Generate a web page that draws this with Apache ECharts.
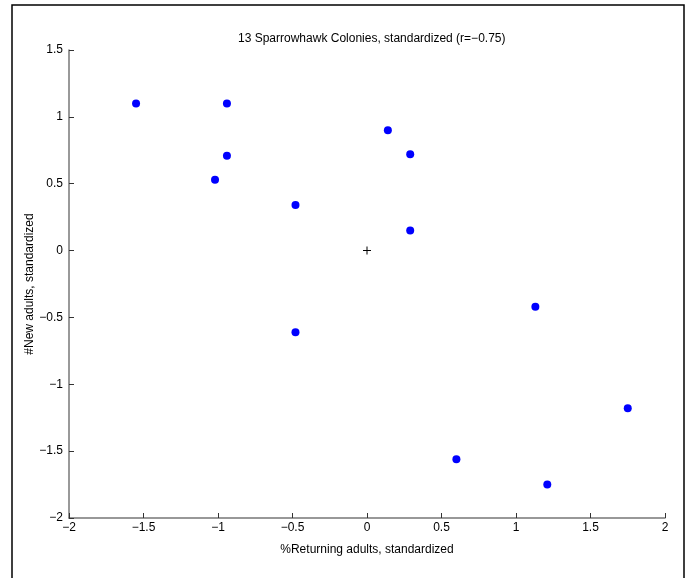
<!DOCTYPE html>
<html>
<head>
<meta charset="utf-8">
<style>
  html, body { margin: 0; padding: 0; background: #fff; }
  #chart { width: 688px; height: 578px; }
</style>
<script src="https://cdn.jsdelivr.net/npm/echarts@6/dist/echarts.min.js"></script>
</head>
<body>
<div id="chart"></div>
<script>
// Standardized values for the 13 colonies
const returningStd = [-1.55, -0.94, -0.94, -1.02, -0.48, -0.48, 0.14, 0.29, 0.29, 1.13, 1.75, 0.60, 1.21];
const newAdultsStd = [1.10, 1.10, 0.71, 0.53, 0.34, -0.61, 0.90, 0.72, 0.15, -0.42, -1.18, -1.56, -1.75];
// Centre of the standardized cloud
const centre = [[0, 0]];
const xTicks = [-2, -1.5, -1, -0.5, 0, 0.5, 1, 1.5, 2];
const yTicks = [-2, -1.5, -1, -0.5, 0, 0.5, 1, 1.5];
const titleText = '13 Sparrowhawk Colonies, standardized (r=\u22120.75)';

const FONT = '"Liberation Sans", Arial, Helvetica, sans-serif';
const fmt = v => String(v).replace('-', '\u2212');

const points = returningStd.map((x, i) => [x, newAdultsStd[i]]);

const chart = echarts.init(document.getElementById('chart'), null, { renderer: 'canvas' });

chart.setOption({
  backgroundColor: '#ffffff',
  animation: false,
  title: {
    text: titleText,
    left: 233,
    top: 28,
    textStyle: { fontFamily: FONT, fontSize: 12, fontWeight: 'normal', color: '#000' }
  },
  graphic: [{
    type: 'rect',
    shape: { x: 12, y: 5, width: 672, height: 620 },
    style: { fill: 'none', stroke: '#000', lineWidth: 1.5 },
    silent: true,
    z: 100
  }],
  grid: { left: 69, right: 23, top: 50, bottom: 60 },
  xAxis: {
    type: 'value',
    min: xTicks[0],
    max: xTicks[xTicks.length - 1],
    interval: 0.5,
    name: '%Returning adults, standardized',
    nameLocation: 'middle',
    nameGap: 26,
    nameMoveOverlap: false,
    nameTextStyle: { fontFamily: FONT, fontSize: 12, color: '#000' },
    axisLine: { onZero: false, lineStyle: { color: '#777', width: 1.5 } },
    axisTick: { inside: true, length: 5, lineStyle: { color: '#333', width: 1 } },
    axisLabel: { formatter: fmt, fontFamily: FONT, fontSize: 12, color: '#000', margin: 4 },
    splitLine: { show: false }
  },
  yAxis: {
    type: 'value',
    min: yTicks[0],
    max: yTicks[yTicks.length - 1],
    interval: 0.5,
    name: '#New adults, standardized',
    nameLocation: 'middle',
    nameGap: 33,
    nameMoveOverlap: false,
    nameRotate: 90,
    nameTextStyle: { fontFamily: FONT, fontSize: 12, color: '#000' },
    axisLine: { show: true, onZero: false, lineStyle: { color: '#777', width: 1.5 } },
    axisTick: { show: true, inside: true, length: 5, lineStyle: { color: '#333', width: 1 } },
    axisLabel: { formatter: fmt, fontFamily: FONT, fontSize: 12, color: '#000', margin: 6 },
    splitLine: { show: false }
  },
  series: [
    {
      type: 'scatter',
      data: points,
      symbol: 'circle',
      symbolSize: 8,
      itemStyle: { color: '#0000ff', opacity: 1 }
    },
    {
      type: 'scatter',
      data: centre,
      symbol: 'path://M7,0h2v7h7v2h-7v7h-2v-7h-7v-2h7z',
      symbolSize: 8,
      itemStyle: { color: '#000', opacity: 1 }
    }
  ]
});
</script>
</body>
</html>
